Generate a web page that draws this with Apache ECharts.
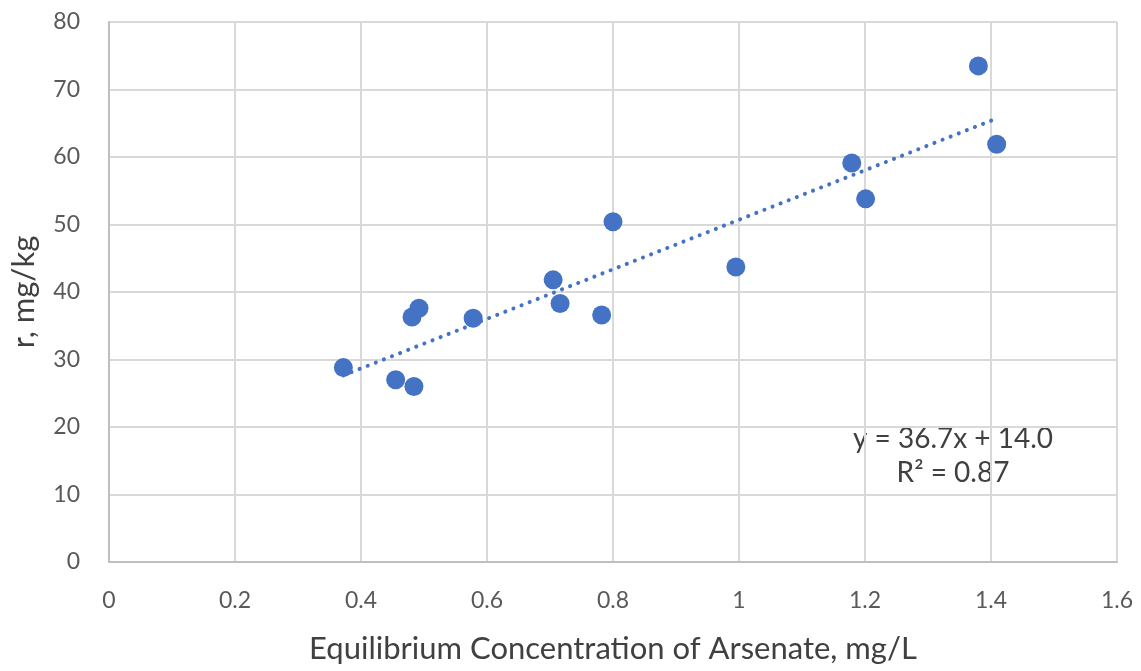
<!DOCTYPE html>
<html>
<head>
<meta charset="utf-8">
<title>Arsenate sorption</title>
<script src="https://cdn.jsdelivr.net/npm/echarts@6/dist/echarts.min.js"></script>
<style>
  html, body { margin: 0; padding: 0; background: #fff; }
  #chart { width: 1141px; height: 671px; }
</style>
</head>
<body>
<div id="chart"></div>
<script>
// equilibrium concentration (mg/L) and sorbed amount r (mg/kg)
var concX = [0.372, 0.455, 0.484, 0.481, 0.492, 0.578, 0.705, 0.716, 0.782, 0.800, 0.995, 1.179, 1.201, 1.380, 1.409]
var rY    = [28.8, 27.0, 26.0, 36.3, 37.6, 36.1, 41.8, 38.3, 36.6, 50.4, 43.7, 59.1, 53.8, 73.5, 61.9]

// linear trendline as printed on the chart
var trendSlope = 36.7
var trendIntercept = 14.0
var trendLabel = ['y = 36.7x + 14.0', 'R\u00b2 = 0.87']

var xTicks = [0, 0.2, 0.4, 0.6, 0.8, 1, 1.2, 1.4, 1.6]
var yTicks = [0, 10, 20, 30, 40, 50, 60, 70, 80]

var points = concX.map(function (x, i) { return [x, rY[i]] })
var xMin = Math.min.apply(null, concX)
var xMax = Math.max.apply(null, concX)
var trend = [
    [xMin, trendSlope * xMin + trendIntercept],
    [xMax, trendSlope * xMax + trendIntercept]
]

var font = 'Lato, "Open Sans", sans-serif'
var myChart = echarts.init(document.getElementById('chart'))
var option = {
    animation: false,
    grid: { left: 109, right: 24, top: 22, bottom: 109 },
    xAxis: {
        type: 'value',
        min: xTicks[0],
        max: xTicks[xTicks.length - 1],
        interval: 0.2,
        name: 'Equilibrium Concentration of Arsenate, mg/L',
        nameLocation: 'middle',
        nameGap: 71,
        nameTextStyle: { color: '#404040', fontSize: 31, fontFamily: font },
        axisLine: { show: true, lineStyle: { color: '#bfbfbf', width: 2 } },
        axisTick: { show: false },
        axisLabel: {
            color: '#595959', fontSize: 23, fontFamily: font, margin: 27,
            formatter: function (v) { return String(Math.round(v * 10) / 10) }
        },
        splitLine: { show: true, lineStyle: { color: '#d9d9d9', width: 2 } }
    },
    yAxis: {
        type: 'value',
        min: yTicks[0],
        max: yTicks[yTicks.length - 1],
        interval: 10,
        name: 'r, mg/kg',
        nameLocation: 'middle',
        nameGap: 70,
        nameTextStyle: { color: '#404040', fontSize: 31, fontFamily: font },
        axisLine: { show: true, lineStyle: { color: '#bfbfbf', width: 2 } },
        axisTick: { show: false },
        axisLabel: { color: '#595959', fontSize: 23, fontFamily: font, margin: 29 },
        splitLine: { show: true, lineStyle: { color: '#d9d9d9', width: 2 } }
    },
    series: [
        {
            name: 'trend',
            type: 'line',
            data: trend,
            symbol: 'none',
            z: 3,
            lineStyle: { color: '#4472c4', width: 4, type: [0.1, 8.6], cap: 'round' }
        },
        {
            name: 'r',
            type: 'scatter',
            data: points,
            symbolSize: 19,
            z: 4,
            itemStyle: { color: '#4472c4', opacity: 1 }
        }
    ],
    graphic: [
        {
            type: 'text',
            x: 953, y: 422,
            style: {
                text: trendLabel.join('\n'), fill: '#404040', fontSize: 28,
                fontFamily: font, align: 'center', verticalAlign: 'top', lineHeight: 34
            }
        }
    ]
}
myChart.setOption(option)
</script>
</body>
</html>
